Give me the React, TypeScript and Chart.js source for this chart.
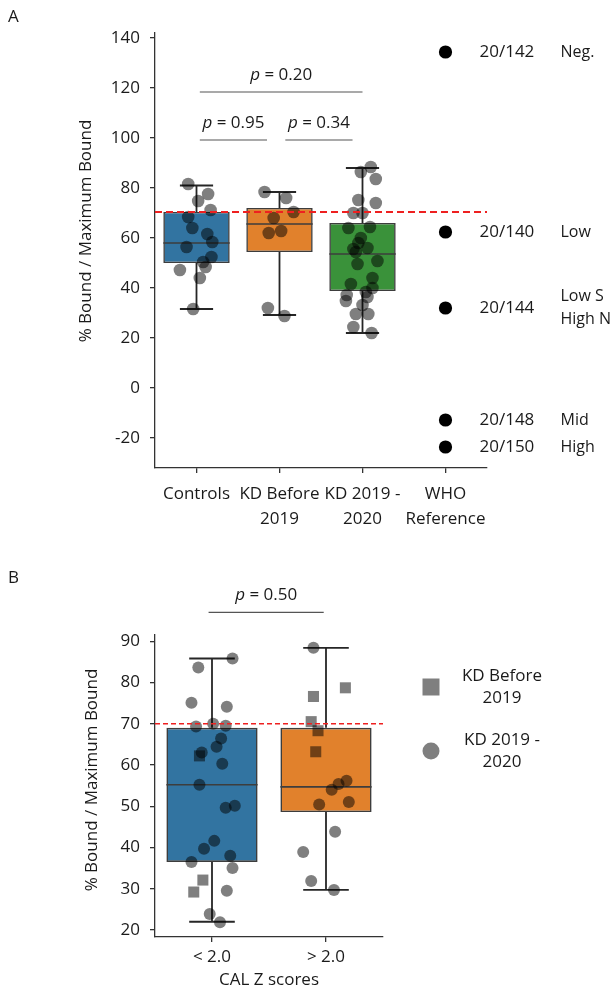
import React, { useEffect, useRef } from "react";
import { Chart, registerables } from "chart.js";
Chart.register(...registerables);

const FONT = "'Open Sans', 'DejaVu Sans', sans-serif";
const FS = 17;
const PT = "rgba(0,0,0,0.5)";
const EDGE = "#3d3d3d";
const AX = "#333333";
const TEXT = "#1a1a1a";
const RED = "rgb(238,32,32)";

// ---------- Panel A data ----------
const catsA = [["Controls"], ["KD Before", "2019"], ["KD 2019 -", "2020"], ["WHO", "Reference"]];
const yTicksA = [-20, 0, 20, 40, 60, 80, 100, 120, 140];
const boxColorsA = ["#3274a1", "#e1812c", "#3a923a"];
const whiskerLowA = [31.6, 29.2, 22];
const q1A = [50, 54.4, 38.8];
const medianA = [58, 65.6, 53.6];
const q3A = [70.4, 72, 66];
const whiskerHighA = [81, 78.4, 88];

const controlsVals = [81.6, 77.6, 74.8, 71.2, 68.4, 64, 61.6, 58.4, 56.4, 52.4, 50.4, 48.4, 47.2, 44, 31.6];
const controlsJitter = [-0.1, 0.14, 0.02, 0.17, -0.1, -0.05, 0.13, 0.19, -0.12, 0.18, 0.08, 0.11, -0.2, 0.04, -0.04];
const kdBeforeVals = [78.4, 76, 70.4, 68, 62, 62.8, 32, 28.8];
const kdBeforeJitter = [-0.18, 0.08, 0.17, -0.07, -0.13, 0.02, -0.14, 0.06];
const kd2019Vals = [88.4, 83.6, 86.4, 75.2, 74, 70, 70, 64, 64.4, 60, 58, 56, 55.6, 54.4, 50.8, 49.6, 44, 41.6, 40, 38.4, 37.2, 36.4, 34.8, 33.2, 29.6, 29.6, 24.4, 22];
const kd2019Jitter = [0.1, 0.16, -0.02, -0.05, 0.16, -0.11, 0.0, -0.17, 0.09, -0.02, -0.05, 0.06, -0.11, -0.08, 0.18, -0.06, 0.12, -0.14, 0.12, 0.04, -0.19, 0.06, -0.2, 0.0, -0.08, 0.07, -0.11, 0.11];

const whoVals = [134.4, 62.4, 32, -12.8, -23.6];
const whoCodes = ["20/142", "20/140", "20/144", "20/148", "20/150"];
const whoLabels = [["Neg."], ["Low"], ["Low S", "High N"], ["Mid"], ["High"]];
const refLineA = 70.4;

const bracketStartA = [0.04, 0.04, 1.07];
const bracketEndA = [2.0, 0.85, 1.88];
const bracketYA = [118.4, 99.2, 99.2];
const pValuesA = ["0.20", "0.95", "0.34"];

// ---------- Panel B data ----------
const catsB = ["< 2.0", "> 2.0"];
const yTicksB = [20, 30, 40, 50, 60, 70, 80, 90];
const boxColorsB = ["#3274a1", "#e1812c"];
const whiskerLowB = [22, 29.7];
const q1B = [36.5, 48.6];
const medianB = [55.2, 54.7];
const q3B = [69, 69];
const whiskerHighB = [85.8, 88.4];

const lowCircleVals = [85.8, 83.6, 75.1, 74.1, 69.3, 70, 69.5, 66.4, 64.4, 63, 60.3, 55.2, 49.6, 50.1, 41.6, 39.7, 38, 36.5, 35, 29.5, 23.9, 21.9];
const lowCircleJitter = [0.18, -0.12, -0.18, 0.13, -0.14, 0.01, 0.12, 0.08, 0.04, -0.09, 0.09, -0.11, 0.12, 0.2, 0.02, -0.07, 0.16, -0.18, 0.18, 0.13, -0.02, 0.07];
const lowSquareVals = [62.2, 32.1, 29.2];
const lowSquareJitter = [-0.11, -0.08, -0.16];
const highCircleVals = [88.4, 56.2, 55.4, 54, 50.4, 51, 43.8, 38.9, 31.9, 29.7];
const highCircleJitter = [-0.11, 0.18, 0.11, 0.05, -0.06, 0.2, 0.08, -0.2, -0.13, 0.07];
const highSquareVals = [78.7, 76.6, 70.5, 68.3, 63.2];
const highSquareJitter = [0.17, -0.11, -0.13, -0.07, -0.09];
const refLineB = 70;

const bracketStartB = [-0.03];
const bracketEndB = [0.98];
const bracketYB = [97];
const pValuesB = ["0.50"];

const legendB = [["KD Before", "2019"], ["KD 2019 -", "2020"]];

function font(size = FS, style = "") {
  return `${style} ${size}px ${FONT}`.trim();
}

function drawP(ctx: CanvasRenderingContext2D, value: string, cx: number, cy: number) {
  ctx.save();
  ctx.font = font(FS, "italic");
  const wp = ctx.measureText("p").width;
  ctx.font = font();
  const rest = " = " + value;
  const wr = ctx.measureText(rest).width;
  const start = cx - (wp + wr) / 2;
  ctx.textBaseline = "middle";
  ctx.textAlign = "left";
  ctx.fillStyle = TEXT;
  ctx.font = font(FS, "italic");
  ctx.fillText("p", start, cy);
  ctx.font = font();
  ctx.fillText(rest, start + wp, cy);
  ctx.restore();
}

function boxPlugin(low: number[], q1: number[], med: number[], q3: number[], high: number[]) {
  return {
    id: "boxParts",
    afterDatasetDraw(chart: any, args: any) {
      if (args.index !== 0) return;
      const ctx = chart.ctx;
      const xs = chart.scales.x;
      const ys = chart.scales.y;
      const meta = chart.getDatasetMeta(0);
      ctx.save();
      for (let i = 0; i < med.length; i++) {
        const cx = xs.getPixelForValue(i);
        const w = meta.data[i].width;
        ctx.strokeStyle = EDGE;
        ctx.lineWidth = 1.6;
        ctx.beginPath();
        ctx.moveTo(cx - w / 2, ys.getPixelForValue(med[i]));
        ctx.lineTo(cx + w / 2, ys.getPixelForValue(med[i]));
        ctx.stroke();
        ctx.strokeStyle = "#262626";
        ctx.lineWidth = 1.8;
        ctx.beginPath();
        ctx.moveTo(cx, ys.getPixelForValue(q3[i]));
        ctx.lineTo(cx, ys.getPixelForValue(high[i]));
        ctx.moveTo(cx, ys.getPixelForValue(q1[i]));
        ctx.lineTo(cx, ys.getPixelForValue(low[i]));
        ctx.moveTo(cx - w / 4, ys.getPixelForValue(high[i]));
        ctx.lineTo(cx + w / 4, ys.getPixelForValue(high[i]));
        ctx.moveTo(cx - w / 4, ys.getPixelForValue(low[i]));
        ctx.lineTo(cx + w / 4, ys.getPixelForValue(low[i]));
        ctx.stroke();
      }
      ctx.restore();
    },
  };
}

function refLinePlugin(value: number, dash: number[], width: number) {
  return {
    id: "refLine",
    afterDatasetsDraw(chart: any) {
      const ctx = chart.ctx;
      const y = chart.scales.y.getPixelForValue(value);
      const { left, right } = chart.chartArea;
      ctx.save();
      ctx.strokeStyle = RED;
      ctx.lineWidth = width;
      ctx.setLineDash(dash);
      ctx.beginPath();
      ctx.moveTo(left, y);
      ctx.lineTo(right, y);
      ctx.stroke();
      ctx.restore();
    },
  };
}

function bracketPlugin(starts: number[], ends: number[], ys: number[], ps: string[]) {
  return {
    id: "brackets",
    afterDraw(chart: any) {
      const ctx = chart.ctx;
      const xs = chart.scales.x;
      const yS = chart.scales.y;
      ctx.save();
      for (let i = 0; i < starts.length; i++) {
        const x1 = xs.getPixelForValue(starts[i]);
        const x2 = xs.getPixelForValue(ends[i]);
        const y = yS.getPixelForValue(ys[i]);
        ctx.strokeStyle = "#555";
        ctx.lineWidth = 1.2;
        ctx.beginPath();
        ctx.moveTo(x1, y);
        ctx.lineTo(x2, y);
        ctx.stroke();
        drawP(ctx, ps[i], (x1 + x2) / 2, y - 17);
      }
      ctx.restore();
    },
  };
}

function textPlugin(letter: string, letterY: number, yTitleX: number, yTitleY: number) {
  return {
    id: "texts",
    afterDraw(chart: any) {
      const ctx = chart.ctx;
      ctx.save();
      ctx.fillStyle = TEXT;
      ctx.font = font(17);
      ctx.textAlign = "left";
      ctx.textBaseline = "middle";
      ctx.fillText(letter, 8, letterY);
      ctx.translate(yTitleX, yTitleY);
      ctx.rotate(-Math.PI / 2);
      ctx.font = font();
      ctx.textAlign = "center";
      ctx.fillText("% Bound / Maximum Bound", 0, 0);
      ctx.restore();
    },
  };
}

const whoPlugin = {
  id: "whoLabels",
  afterDraw(chart: any) {
    const ctx = chart.ctx;
    const xs = chart.scales.x;
    const ys = chart.scales.y;
    const cx = xs.getPixelForValue(3);
    ctx.save();
    ctx.fillStyle = TEXT;
    ctx.textAlign = "left";
    ctx.textBaseline = "middle";
    for (let i = 0; i < whoVals.length; i++) {
      const y = ys.getPixelForValue(whoVals[i]);
      ctx.font = font();
      ctx.fillText(whoCodes[i], cx + 34, y);
      ctx.font = font(16);
      const lines = whoLabels[i];
      const lh = 23.5;
      lines.forEach((t, k) => {
        ctx.fillText(t, cx + 115, y + (k - (lines.length - 1) / 2) * lh);
      });
    }
    ctx.restore();
  },
};

const legendPluginB = {
  id: "legendB",
  afterDraw(chart: any) {
    const ctx = chart.ctx;
    const { right, top } = chart.chartArea;
    ctx.save();
    ctx.fillStyle = PT;
    const mx = right + 48;
    ctx.fillRect(mx - 8.5, top + 52 - 8.5, 17, 17);
    ctx.beginPath();
    ctx.arc(mx, top + 116, 8.5, 0, Math.PI * 2);
    ctx.fill();
    ctx.fillStyle = TEXT;
    ctx.font = font();
    ctx.textAlign = "center";
    ctx.textBaseline = "middle";
    const centers = [top + 52, top + 116];
    legendB.forEach((lines, i) => {
      lines.forEach((t, k) => {
        ctx.fillText(t, right + 119, centers[i] - 11 + k * 22);
      });
    });
    ctx.restore();
  },
};

function axisCommon() {
  return {
    grid: { display: true, drawOnChartArea: false, drawTicks: true, tickLength: 5, color: AX, lineWidth: 1.3, offset: false },
    border: { display: true, color: AX, width: 1.3 },
  };
}

function scatterSet(vals: number[], jit: number[], cat: number, style: string, r: number, color = PT) {
  return {
    type: "scatter",
    data: vals.map((v, j) => ({ x: cat + jit[j], y: v })),
    backgroundColor: color,
    borderColor: "rgba(0,0,0,0)",
    borderWidth: 0,
    pointStyle: style,
    pointRadius: r,
    pointHoverRadius: r,
    order: 1,
  };
}

function PanelA() {
  const ref = useRef<HTMLCanvasElement>(null);
  useEffect(() => {
    const chart = new Chart(ref.current as HTMLCanvasElement, {
      type: "bar",
      data: {
        datasets: [
          {
            type: "bar",
            data: q1A.map((q, i) => ({ x: i, y: [q, q3A[i]] })),
            backgroundColor: boxColorsA,
            borderColor: EDGE,
            borderWidth: 1.6,
            borderSkipped: false,
            barPercentage: 1,
            categoryPercentage: 0.8,
            order: 3,
          } as any,
          scatterSet(controlsVals, controlsJitter, 0, "circle", 6.3),
          scatterSet(kdBeforeVals, kdBeforeJitter, 1, "circle", 6.3),
          scatterSet(kd2019Vals, kd2019Jitter, 2, "circle", 6.3),
          scatterSet(whoVals, whoVals.map(() => 0), 3, "circle", 6.6, "#000"),
        ] as any,
      },
      options: {
        animation: false,
        responsive: false,
        devicePixelRatio: 1,
        events: [],
        layout: { padding: { left: 84, right: 127, top: 33, bottom: 0 }, autoPadding: false } as any,
        plugins: { legend: { display: false }, tooltip: { enabled: false } },
        scales: {
          x: {
            type: "linear",
            min: -0.5,
            max: 3.5,
            bounds: "data",
            offset: false,
            afterBuildTicks: (s: any) => {
              s.ticks = catsA.map((_, i) => ({ value: i }));
            },
            afterFit: (s: any) => {
              s.height = 77;
            },
            ticks: {
              callback: (_v: any, i: number) => catsA[i],
              font: { family: FONT, size: FS, lineHeight: 1.47 },
              color: TEXT,
              padding: 8.5,
              maxRotation: 0,
              autoSkip: false,
            },
            ...axisCommon(),
          } as any,
          y: {
            type: "linear",
            min: -32,
            max: 142,
            bounds: "data",
            afterBuildTicks: (s: any) => {
              s.ticks = yTicksA.map((v) => ({ value: v }));
            },
            afterFit: (s: any) => {
              s.width = 71;
            },
            ticks: { callback: (v: any) => String(v), font: { family: FONT, size: FS }, color: TEXT, padding: 10 },
            ...axisCommon(),
          } as any,
        },
      },
      plugins: [
        boxPlugin(whiskerLowA, q1A, medianA, q3A, whiskerHighA),
        refLinePlugin(refLineA, [7, 4], 2),
        bracketPlugin(bracketStartA, bracketEndA, bracketYA, pValuesA),
        whoPlugin,
        textPlugin("A", 17, 86, 231),
      ] as any,
    });
    return () => chart.destroy();
  }, []);
  return <canvas ref={ref} width={614} height={545} style={{ display: "block", width: 614, height: 545 }} />;
}

function PanelB() {
  const ref = useRef<HTMLCanvasElement>(null);
  useEffect(() => {
    const chart = new Chart(ref.current as HTMLCanvasElement, {
      type: "bar",
      data: {
        datasets: [
          {
            type: "bar",
            data: q1B.map((q, i) => ({ x: i, y: [q, q3B[i]] })),
            backgroundColor: boxColorsB,
            borderColor: EDGE,
            borderWidth: 1.6,
            borderSkipped: false,
            barPercentage: 1,
            categoryPercentage: 0.8,
            order: 3,
          } as any,
          scatterSet(lowCircleVals, lowCircleJitter, 0, "circle", 6),
          scatterSet(lowSquareVals, lowSquareJitter, 0, "rect", 7.8),
          scatterSet(highCircleVals, highCircleJitter, 1, "circle", 6),
          scatterSet(highSquareVals, highSquareJitter, 1, "rect", 7.8),
        ] as any,
      },
      options: {
        animation: false,
        responsive: false,
        devicePixelRatio: 1,
        events: [],
        layout: { padding: { left: 84, right: 231, top: 90, bottom: 11 }, autoPadding: false } as any,
        plugins: { legend: { display: false }, tooltip: { enabled: false } },
        scales: {
          x: {
            type: "linear",
            min: -0.5,
            max: 1.5,
            bounds: "data",
            offset: false,
            afterBuildTicks: (s: any) => {
              s.ticks = catsB.map((_, i) => ({ value: i }));
            },
            afterFit: (s: any) => {
              s.height = 57;
            },
            ticks: {
              callback: (_v: any, i: number) => catsB[i],
              font: { family: FONT, size: FS, lineHeight: 1.2 },
              color: TEXT,
              padding: 5,
              maxRotation: 0,
              autoSkip: false,
            },
            title: {
              display: true,
              text: "CAL Z scores",
              color: TEXT,
              font: { family: FONT, size: FS, lineHeight: 1.2 },
              padding: { top: 0, bottom: 4 },
            },
            ...axisCommon(),
          } as any,
          y: {
            type: "linear",
            min: 18.3,
            max: 91.5,
            bounds: "data",
            afterBuildTicks: (s: any) => {
              s.ticks = yTicksB.map((v) => ({ value: v }));
            },
            afterFit: (s: any) => {
              s.width = 71;
            },
            ticks: { callback: (v: any) => String(v), font: { family: FONT, size: FS }, color: TEXT, padding: 10 },
            ...axisCommon(),
          } as any,
        },
      },
      plugins: [
        boxPlugin(whiskerLowB, q1B, medianB, q3B, whiskerHighB),
        refLinePlugin(refLineB, [5, 3], 1.5),
        bracketPlugin(bracketStartB, bracketEndB, bracketYB, pValuesB),
        legendPluginB,
        textPlugin("B", 33, 92, 235),
      ] as any,
    });
    return () => chart.destroy();
  }, []);
  return <canvas ref={ref} width={614} height={460} style={{ display: "block", width: 614, height: 460 }} />;
}

export default function App() {
  return (
    <div style={{ position: "absolute", left: 0, top: 0, width: 614, height: 986, overflow: "hidden", background: "#fff" }}>
      <PanelA />
      <PanelB />
    </div>
  );
}
